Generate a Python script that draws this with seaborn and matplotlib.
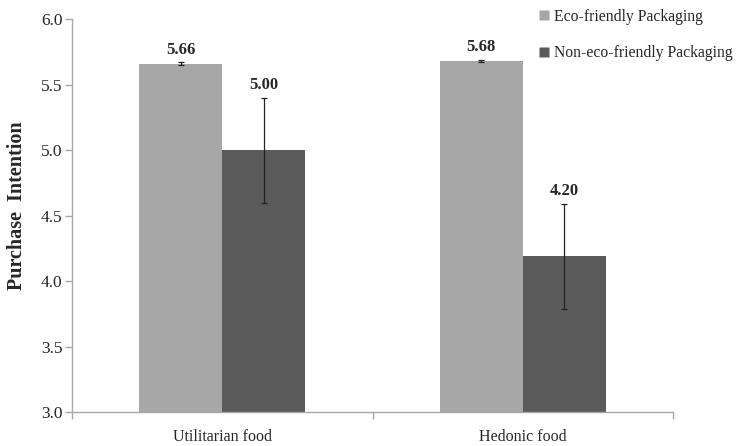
import pandas as pd
import numpy as np
import matplotlib.pyplot as plt
import seaborn as sns
from matplotlib.lines import Line2D

# data
categories = ['Utilitarian food', 'Hedonic food']
groups = ['Eco-friendly Packaging', 'Non-eco-friendly Packaging']
eco_means = [5.66, 5.68]
non_eco_means = [5.00, 4.19]
eco_err = [0.01, 0.01]
non_eco_err = [0.40, 0.40]
value_labels = [['5.66', '5.68'], ['5.00', '4.20']]

colors = ['#a6a7a6', '#595a59']
axis_grey = '#a8a8a8'

df = pd.DataFrame({
    'food': categories * 2,
    'pack': [groups[0]] * 2 + [groups[1]] * 2,
    'mean': eco_means + non_eco_means,
})

sns.set_style('white')
plt.rcParams['font.family'] = ['Liberation Serif', 'DejaVu Serif']

fig = plt.figure(figsize=(7.43, 4.46), dpi=100)
ax = fig.add_axes([0.097, 0.076, 0.809, 0.881])

sns.barplot(data=df, x='food', y='mean', hue='pack', order=categories,
            hue_order=groups, palette=colors, width=0.553, ax=ax,
            legend=False, saturation=1, edgecolor='none')

ax.set_ylim(3.0, 6.0)
ax.set_xlim(-0.5, 1.5)
ax.set_yticks(np.arange(3.0, 6.01, 0.5))
ax.set_yticklabels([f'{v:.1f}' for v in np.arange(3.0, 6.01, 0.5)], fontsize=12.5)

# error bars and value labels at each bar
means = [eco_means, non_eco_means]
errs = [eco_err, non_eco_err]
bar_conts = list(ax.containers)
for gi, cont in enumerate(bar_conts):
    for ci, bar in enumerate(cont):
        xc = bar.get_x() + bar.get_width() / 2
        m = means[gi][ci]
        e = errs[gi][ci]
        ax.errorbar(xc, m, yerr=e, color='#222222', lw=0.9, capsize=2.5,
                    capthick=0.9)
        ax.annotate(value_labels[gi][ci], (xc, m + e), xytext=(0, 3.5),
                    textcoords='offset points', ha='center', va='bottom',
                    fontsize=12, fontweight='bold')

ax.set_xlabel('')
ax.set_ylabel('Purchase  Intention', fontsize=14.5, fontweight='bold')
ax.yaxis.set_label_coords(-0.075, 0.525)
ax.set_xticks([0, 1])
ax.set_xticklabels(categories, fontsize=11.5)
ax.set_xticks([-0.5, 0.5, 1.5], minor=True)
ax.tick_params(axis='x', which='major', length=0, pad=12)
ax.tick_params(axis='x', which='minor', length=5, color=axis_grey, width=1,
               direction='out', bottom=True)
ax.tick_params(axis='y', length=5, color=axis_grey, width=1, direction='out',
               left=True, pad=2)

for s in ['top', 'right']:
    ax.spines[s].set_visible(False)
for s in ['left', 'bottom']:
    ax.spines[s].set_color(axis_grey)
    ax.spines[s].set_linewidth(1)

handles = [Line2D([], [], marker='s', ls='none', markersize=7,
                  markerfacecolor=c, markeredgecolor='none') for c in colors]
fig.legend(handles, groups, loc='upper left', bbox_to_anchor=(0.703, 1.012),
           frameon=False, fontsize=11.3, labelspacing=1.3, handletextpad=0.1,
           handlelength=1.0)

fig.savefig('out.png', dpi=100)
